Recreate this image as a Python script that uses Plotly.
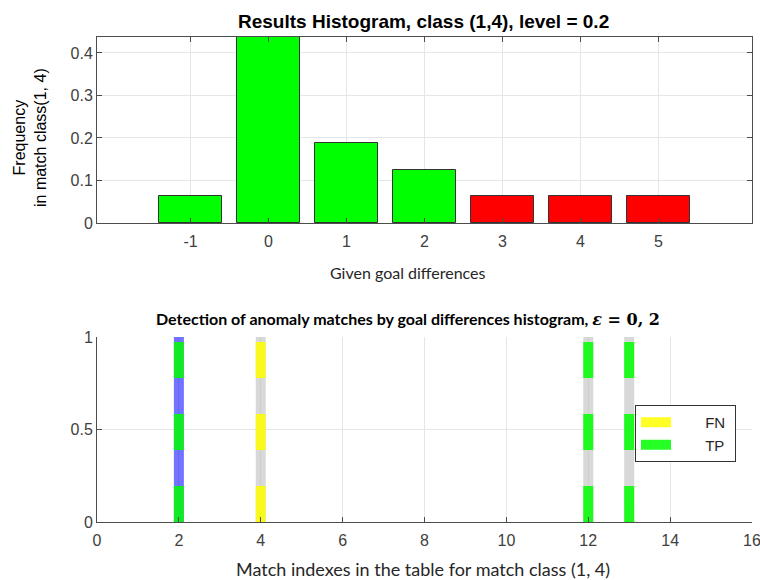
import plotly.graph_objects as go

# ---- data ----
goal_diffs = [-1, 0, 1, 2, 3, 4, 5]
frequency = [0.0625, 0.4375, 0.1875, 0.125, 0.0625, 0.0625, 0.0625]
bar_colors = ["#00ff00", "#00ff00", "#00ff00", "#00ff00", "#ff0000", "#ff0000", "#ff0000"]

match_idx = [2, 4, 12, 13]
base_colors = ["rgba(0,0,255,0.55)", "rgba(190,190,190,0.6)", "rgba(190,190,190,0.6)", "rgba(190,190,190,0.6)"]
labels = ["TP", "FN", "TP", "TP"]
label_colors = {"FN": "rgba(255,255,0,0.85)", "TP": "rgba(0,255,0,0.85)"}
legend_order = ["FN", "TP"]

x_ticks_top = [-1, 0, 1, 2, 3, 4, 5]
x_ticktext_top = ["-1", "0", "1", "2", "3", "4", "5"]
y_ticks_top = [0, 0.1, 0.2, 0.3, 0.4]
y_ticktext_top = ["0", "0.1", "0.2", "0.3", "0.4"]
x_ticks_bot = [0, 2, 4, 6, 8, 10, 12, 14, 16]
y_ticks_bot = [0, 0.5, 1]
y_ticktext_bot = ["0", "0.5", "1"]

W, H = 760, 580
AX_L, AX_R = 97, 752
TOP_T, TOP_B = 37, 223
BOT_T, BOT_B = 337, 522

def px(v):
    return v / W

def py(v):
    return 1 - v / H

fig = go.Figure()

fig.add_trace(go.Bar(
    x=goal_diffs, y=frequency, width=0.8,
    marker=dict(color=bar_colors, line=dict(color="#333333", width=1)),
    xaxis="x", yaxis="y", showlegend=False,
))

for xi, bc, lab in zip(match_idx, base_colors, labels):
    fig.add_trace(go.Scatter(
        x=[xi, xi], y=[0, 1], mode="lines",
        line=dict(color=bc, width=10),
        xaxis="x2", yaxis="y2", showlegend=False, hoverinfo="skip",
    ))
    fig.add_trace(go.Scatter(
        x=[xi, xi], y=[0, 1], mode="lines",
        line=dict(color=label_colors[lab], width=10, dash="36px,36px"),
        xaxis="x2", yaxis="y2", showlegend=False, hoverinfo="skip",
    ))

for lab in legend_order:
    fig.add_trace(go.Scatter(
        x=[None], y=[None], mode="lines",
        line=dict(color=label_colors[lab], width=10),
        name="\u00a0" * 7 + lab + "\u00a0",
        xaxis="x2", yaxis="y2", showlegend=True,
    ))

axis_common = dict(
    showline=True, linecolor="#4d4d4d", linewidth=1,
    ticks="inside", ticklen=5, tickcolor="#4d4d4d",
    showgrid=True, gridcolor="#e6e6e6", gridwidth=1,
    zeroline=False, automargin=False, ticklabeloverflow="allow",
    tickfont=dict(family="Liberation Sans", size=16, color="#404040"),
)

fig.update_layout(
    width=W, height=H,
    margin=dict(l=0, r=0, t=0, b=0),
    paper_bgcolor="white", plot_bgcolor="white",
    xaxis=dict(domain=[px(AX_L), px(AX_R)], anchor="y", range=[-2.2, 6.2],
               tickvals=x_ticks_top, ticktext=x_ticktext_top, mirror="ticks",
               ticklabelstandoff=4, **axis_common),
    yaxis=dict(domain=[py(TOP_B), py(TOP_T)], anchor="x", range=[0, 0.4375],
               tickvals=y_ticks_top, ticktext=y_ticktext_top, mirror="ticks", **axis_common),
    xaxis2=dict(domain=[px(AX_L), px(AX_R)], anchor="y2", range=[0, 16],
                tickvals=x_ticks_bot, ticklabelstandoff=4, **axis_common),
    yaxis2=dict(domain=[py(BOT_B), py(BOT_T)], anchor="x2", range=[0, 1],
                tickvals=y_ticks_bot, ticktext=y_ticktext_bot, **axis_common),
    legend=dict(x=px(635), y=py(405), xanchor="left", yanchor="top",
                bordercolor="#333333", borderwidth=1, bgcolor="white",
                font=dict(family="Liberation Sans", size=15, color="#262626"),
                tracegroupgap=0),
    showlegend=True,
    bargap=0,
)

def ann(text, x, y, size, family, color="#000000", angle=0):
    fig.add_annotation(text=text, x=px(x), y=py(y), xref="paper", yref="paper",
                       xanchor="center", yanchor="middle", showarrow=False,
                       textangle=angle, font=dict(family=family, size=size, color=color))

ann("<b>Results Histogram, class (1,4), level = 0.2</b>", 424, 21, 19, "Liberation Sans")
ann("Frequency<br>in match class(1, 4)", 30, 138, 16, "Liberation Sans", angle=-90)
ann("Given goal differences", 408, 272, 16, "Lato", color="#262626")
ann("<b>Detection of anomaly matches by goal differences histogram, </b>"
    "<span style=\"font-family:'DejaVu Serif', serif\"><b><i>ε</i> = 0, 2</b></span>",
    408, 319, 16, "Lato")
ann("Match indexes in the table for match class (1, 4)", 423, 569, 18, "Lato", color="#262626")

fig.write_html("out.html")
